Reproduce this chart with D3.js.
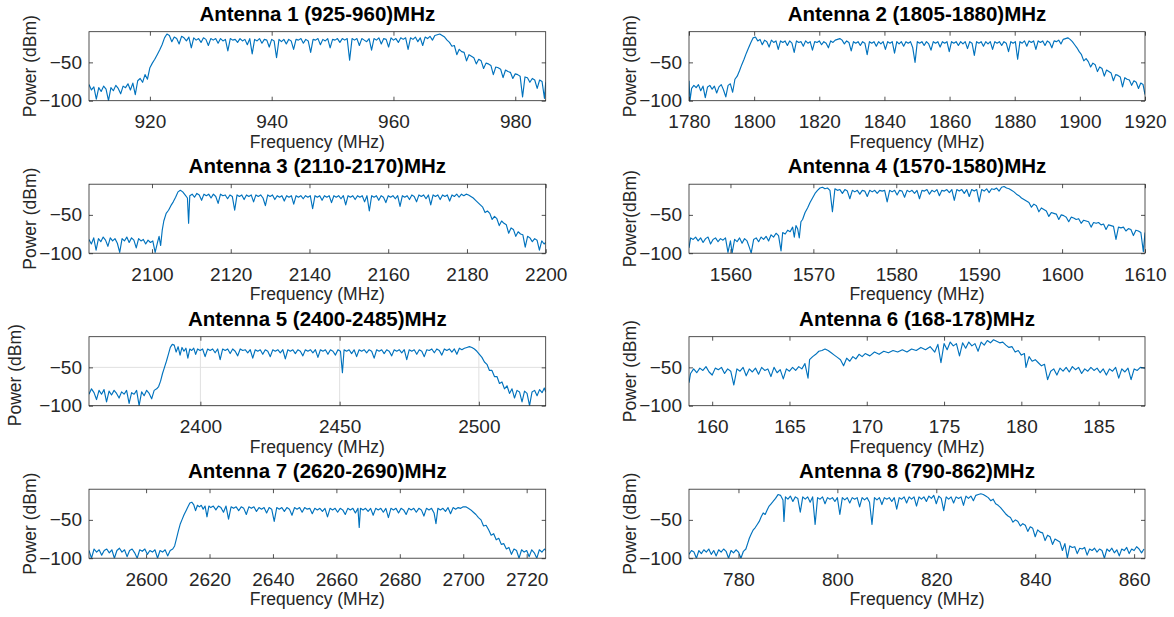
<!DOCTYPE html>
<html>
<head>
<meta charset="utf-8">
<script src="https://cdn.jsdelivr.net/npm/d3@7"></script>
<style>
  html, body { margin: 0; padding: 0; background: #fff; }
  svg { display: block; }
  text { font-family: "Liberation Sans", Arial, Helvetica, sans-serif; }
</style>
</head>
<body>
<script>
// ---------------- DATA ----------------
const titles = [
  "Antenna 1 (925-960)MHz", "Antenna 2 (1805-1880)MHz",
  "Antenna 3 (2110-2170)MHz", "Antenna 4 (1570-1580)MHz",
  "Antenna 5 (2400-2485)MHz", "Antenna 6 (168-178)MHz",
  "Antenna 7 (2620-2690)MHz", "Antenna 8 (790-862)MHz"
];
const yLabels = ["Power (dBm)", "Power (dBm)", "Power (dBm)", "Power(dBm)",
                 "Power (dBm)", "Power (dBm)", "Power (dBm)", "Power (dBm)"];
const xLabel = "Frequency (MHz)";
const xDomains = [[910, 985], [1780, 1920], [2084, 2200], [1555, 1610],
                  [2360, 2524], [158.5, 188], [2582, 2726], [770, 862.2]];
const yDomain = [-100, -10];
const yTicks = [-100, -50];
const xTicks = [
  [920, 940, 960, 980],
  [1780, 1800, 1820, 1840, 1860, 1880, 1900, 1920],
  [2100, 2120, 2140, 2160, 2180, 2200],
  [1560, 1570, 1580, 1590, 1600, 1610],
  [2400, 2450, 2500],
  [160, 165, 170, 175, 180, 185],
  [2600, 2620, 2640, 2660, 2680, 2700, 2720],
  [780, 800, 820, 840, 860]
];
const gridOn = [false, false, false, false, true, false, false, false];

// Spectra: [frequency MHz, power dBm]
const ant1 = [[910,-79],[910.4,-86],[910.8,-82],[911.2,-98],[911.6,-83],[912,-88],[912.4,-81],[912.8,-85],[913.2,-100],[913.6,-83],[914,-87],[914.4,-80],[914.8,-84],[915.2,-91],[915.6,-81],[916,-83],[916.4,-78],[916.8,-86],[917.2,-77],[917.6,-92],[918,-74],[918.4,-71],[918.8,-76],[919.2,-66],[919.6,-72],[920,-57],[920.4,-51],[920.8,-46],[921.2,-40],[921.6,-34],[922,-27],[922.4,-18],[922.8,-13],[923.2,-15],[923.6,-23],[924,-17],[924.4,-19],[924.8,-26],[925.2,-16],[925.6,-18],[926,-22],[926.4,-17],[926.8,-31],[927.2,-18],[927.6,-21],[928,-19],[928.4,-24],[928.8,-18],[929.2,-20],[929.6,-28],[930,-19],[930.4,-21],[930.8,-19],[931.2,-25],[931.6,-19],[932,-22],[932.4,-20],[932.8,-35],[933.2,-19],[933.6,-21],[934,-20],[934.4,-24],[934.8,-19],[935.2,-22],[935.6,-20],[936,-27],[936.4,-19],[936.8,-39],[937.2,-20],[937.6,-22],[938,-19],[938.4,-25],[938.8,-20],[939.2,-21],[939.6,-30],[940,-20],[940.4,-22],[940.8,-44],[941.2,-20],[941.6,-23],[942,-20],[942.4,-26],[942.8,-20],[943.2,-22],[943.6,-33],[944,-20],[944.4,-21],[944.8,-19],[945.2,-25],[945.6,-20],[946,-22],[946.4,-37],[946.8,-20],[947.2,-21],[947.6,-19],[948,-27],[948.4,-20],[948.8,-22],[949.2,-19],[949.6,-31],[950,-20],[950.4,-21],[950.8,-19],[951.2,-24],[951.6,-19],[952,-21],[952.4,-19],[952.8,-47],[953.2,-19],[953.6,-21],[954,-19],[954.4,-28],[954.8,-19],[955.2,-21],[955.6,-23],[956,-19],[956.4,-34],[956.8,-19],[957.2,-21],[957.6,-18],[958,-26],[958.4,-19],[958.8,-20],[959.2,-30],[959.6,-18],[960,-21],[960.4,-19],[960.8,-24],[961.2,-18],[961.6,-20],[962,-18],[962.4,-33],[962.8,-18],[963.2,-20],[963.6,-17],[964,-23],[964.4,-18],[964.8,-28],[965.2,-17],[965.6,-19],[966,-16],[966.4,-21],[966.8,-15],[967.2,-14],[967.6,-13],[968,-15],[968.4,-17],[968.8,-21],[969.2,-24],[969.6,-29],[970,-28],[970.4,-40],[970.8,-33],[971.2,-36],[971.6,-37],[972,-48],[972.4,-40],[972.8,-42],[973.2,-44],[973.6,-52],[974,-46],[974.4,-48],[974.8,-58],[975.2,-51],[975.6,-52],[976,-54],[976.4,-66],[976.8,-56],[977.2,-57],[977.6,-59],[978,-70],[978.4,-60],[978.8,-62],[979.2,-63],[979.6,-71],[980,-65],[980.4,-66],[980.8,-68],[981.2,-95],[981.6,-69],[982,-70],[982.4,-76],[982.8,-71],[983.2,-73],[983.6,-84],[984,-73],[984.4,-75],[984.8,-97],[985,-76]];

const ant2 = [[1780,-74],[1780.3,-100],[1780.8,-84],[1781.5,-80],[1782.2,-83],[1782.9,-79],[1783.6,-87],[1784.3,-81],[1785,-96],[1785.7,-82],[1786.4,-80],[1787.1,-85],[1787.8,-81],[1788.5,-90],[1789.2,-82],[1789.9,-79],[1790.6,-86],[1791.3,-95],[1792,-80],[1792.7,-78],[1793.4,-89],[1794.1,-72],[1794.8,-68],[1795.5,-61],[1796.2,-53],[1796.9,-46],[1797.6,-38],[1798.3,-31],[1799,-24],[1799.7,-18],[1800.4,-17],[1801.1,-22],[1801.8,-20],[1802.5,-27],[1803.2,-21],[1803.9,-23],[1804.6,-30],[1805.3,-21],[1806,-24],[1806.7,-22],[1807.4,-33],[1808.1,-22],[1808.8,-24],[1809.5,-22],[1810.2,-28],[1810.9,-22],[1811.6,-25],[1812.3,-37],[1813,-22],[1813.7,-24],[1814.4,-23],[1815.1,-29],[1815.8,-22],[1816.5,-25],[1817.2,-23],[1817.9,-34],[1818.6,-23],[1819.3,-24],[1820,-22],[1820.7,-27],[1821.4,-23],[1822.1,-25],[1822.8,-31],[1823.5,-22],[1824.2,-24],[1824.9,-21],[1825.6,-20],[1826.3,-19],[1827,-21],[1827.7,-26],[1828.4,-22],[1829.1,-24],[1829.8,-35],[1830.5,-23],[1831.2,-25],[1831.9,-23],[1832.6,-28],[1833.3,-23],[1834,-25],[1834.7,-40],[1835.4,-23],[1836.1,-25],[1836.8,-23],[1837.5,-29],[1838.2,-23],[1838.9,-26],[1839.6,-23],[1840.3,-33],[1841,-23],[1841.7,-25],[1842.4,-23],[1843.1,-38],[1843.8,-23],[1844.5,-26],[1845.2,-23],[1845.9,-29],[1846.6,-23],[1847.3,-25],[1848,-23],[1848.7,-31],[1849.4,-50],[1850.1,-23],[1850.8,-25],[1851.5,-23],[1852.2,-28],[1852.9,-23],[1853.6,-26],[1854.3,-34],[1855,-23],[1855.7,-25],[1856.4,-23],[1857.1,-30],[1857.8,-23],[1858.5,-25],[1859.2,-23],[1859.9,-36],[1860.6,-23],[1861.3,-25],[1862,-23],[1862.7,-28],[1863.4,-23],[1864.1,-26],[1864.8,-23],[1865.5,-32],[1866.2,-23],[1866.9,-25],[1867.6,-41],[1868.3,-23],[1869,-25],[1869.7,-23],[1870.4,-29],[1871.1,-23],[1871.8,-26],[1872.5,-23],[1873.2,-33],[1873.9,-23],[1874.6,-25],[1875.3,-23],[1876,-28],[1876.7,-23],[1877.4,-25],[1878.1,-36],[1878.8,-23],[1879.5,-25],[1880.2,-23],[1880.9,-46],[1881.6,-23],[1882.3,-25],[1883,-22],[1883.7,-29],[1884.4,-22],[1885.1,-24],[1885.8,-22],[1886.5,-33],[1887.2,-22],[1887.9,-24],[1888.6,-22],[1889.3,-28],[1890,-22],[1890.7,-24],[1891.4,-31],[1892.1,-22],[1892.8,-23],[1893.5,-21],[1894.2,-26],[1894.9,-20],[1895.6,-19],[1896.3,-18],[1897,-20],[1897.7,-23],[1898.4,-27],[1899.1,-31],[1899.8,-36],[1900.5,-40],[1901.2,-48],[1901.9,-45],[1902.6,-49],[1903.3,-56],[1904,-51],[1904.7,-53],[1905.4,-62],[1906.1,-56],[1906.8,-58],[1907.5,-68],[1908.2,-60],[1908.9,-62],[1909.6,-64],[1910.3,-74],[1911,-66],[1911.7,-67],[1912.4,-69],[1913.1,-82],[1913.8,-70],[1914.5,-72],[1915.2,-73],[1915.9,-80],[1916.6,-74],[1917.3,-76],[1918,-84],[1918.7,-77],[1919.4,-79],[1920,-92]];

const ant3 = [[2084,-82],[2084.6,-88],[2085.2,-80],[2085.8,-96],[2086.4,-81],[2087,-85],[2087.6,-79],[2088.2,-83],[2088.8,-91],[2089.4,-80],[2090,-84],[2090.6,-81],[2091.2,-87],[2091.8,-99],[2092.4,-81],[2093,-84],[2093.6,-79],[2094.2,-86],[2094.8,-80],[2095.4,-83],[2096,-93],[2096.6,-81],[2097.2,-84],[2097.8,-82],[2098.4,-88],[2099,-83],[2099.6,-86],[2100.2,-84],[2100.8,-99],[2101.4,-86],[2101.8,-78],[2102.2,-90],[2102.6,-70],[2103,-58],[2103.6,-48],[2104.2,-44],[2104.8,-38],[2105.4,-33],[2106,-27],[2106.6,-20],[2107.2,-18],[2107.8,-20],[2108.4,-24],[2109,-28],[2109.3,-61],[2109.6,-25],[2110.2,-23],[2110.8,-27],[2111.4,-22],[2112,-24],[2112.6,-31],[2113.2,-23],[2113.8,-25],[2114.4,-23],[2115,-28],[2115.6,-23],[2116.2,-26],[2116.8,-35],[2117.4,-23],[2118,-25],[2118.6,-24],[2119.2,-29],[2119.8,-24],[2120.4,-26],[2121,-44],[2121.6,-24],[2122.2,-26],[2122.8,-24],[2123.4,-30],[2124,-24],[2124.6,-26],[2125.2,-24],[2125.8,-33],[2126.4,-24],[2127,-26],[2127.6,-24],[2128.2,-28],[2128.8,-38],[2129.4,-24],[2130,-26],[2130.6,-24],[2131.2,-30],[2131.8,-25],[2132.4,-27],[2133,-25],[2133.6,-32],[2134.2,-25],[2134.8,-27],[2135.4,-25],[2136,-36],[2136.6,-25],[2137.2,-27],[2137.8,-25],[2138.4,-29],[2139,-25],[2139.6,-27],[2140.2,-25],[2140.8,-42],[2141.4,-25],[2142,-27],[2142.6,-25],[2143.2,-31],[2143.8,-25],[2144.4,-27],[2145,-25],[2145.6,-34],[2146.2,-25],[2146.8,-27],[2147.4,-25],[2148,-29],[2148.6,-25],[2149.2,-37],[2149.8,-25],[2150.4,-27],[2151,-25],[2151.6,-30],[2152.2,-25],[2152.8,-27],[2153.4,-25],[2154,-33],[2154.6,-25],[2155.2,-45],[2155.8,-25],[2156.4,-27],[2157,-25],[2157.6,-31],[2158.2,-25],[2158.8,-27],[2159.4,-34],[2160,-25],[2160.6,-27],[2161.2,-25],[2161.8,-29],[2162.4,-25],[2163,-39],[2163.6,-25],[2164.2,-27],[2164.8,-25],[2165.4,-30],[2166,-24],[2166.6,-26],[2167.2,-33],[2167.8,-24],[2168.4,-26],[2169,-24],[2169.6,-29],[2170.2,-24],[2170.8,-37],[2171.4,-24],[2172,-26],[2172.6,-24],[2173.2,-30],[2173.8,-24],[2174.4,-26],[2175,-24],[2175.6,-32],[2176.2,-24],[2176.8,-26],[2177.4,-23],[2178,-27],[2178.6,-23],[2179.2,-25],[2179.8,-23],[2180.4,-24],[2181,-26],[2181.6,-28],[2182.2,-31],[2182.8,-34],[2183.4,-37],[2184,-40],[2184.6,-47],[2185.2,-45],[2185.8,-48],[2186.4,-56],[2187,-52],[2187.6,-55],[2188.2,-64],[2188.8,-58],[2189.4,-61],[2190,-63],[2190.6,-74],[2191.2,-67],[2191.8,-69],[2192.4,-78],[2193,-72],[2193.6,-75],[2194.2,-76],[2194.8,-92],[2195.4,-78],[2196,-80],[2196.6,-85],[2197.2,-81],[2197.8,-83],[2198.4,-96],[2199,-84],[2199.6,-88],[2200,-86]];

const ant4 = [[1555,-93],[1555.2,-80],[1555.5,-82],[1555.8,-79],[1556.1,-84],[1556.4,-80],[1556.7,-86],[1557,-81],[1557.3,-79],[1557.6,-88],[1557.9,-82],[1558.2,-80],[1558.5,-85],[1558.8,-81],[1559.1,-83],[1559.4,-80],[1559.7,-99],[1560,-84],[1560.2,-100],[1560.5,-82],[1560.8,-85],[1561.1,-80],[1561.4,-87],[1561.7,-81],[1562,-84],[1562.3,-93],[1562.5,-100],[1562.8,-82],[1563.1,-80],[1563.4,-85],[1563.7,-79],[1564,-82],[1564.3,-78],[1564.6,-84],[1564.9,-76],[1565.2,-79],[1565.5,-74],[1565.8,-77],[1566.1,-97],[1566.3,-73],[1566.6,-75],[1566.9,-70],[1567.2,-72],[1567.5,-66],[1567.7,-79],[1567.9,-64],[1568.1,-68],[1568.3,-80],[1568.5,-59],[1568.7,-56],[1569,-47],[1569.3,-41],[1569.6,-34],[1569.9,-28],[1570.2,-22],[1570.5,-18],[1570.8,-15],[1571.1,-14],[1571.4,-16],[1571.7,-15],[1572,-18],[1572.3,-46],[1572.6,-16],[1572.9,-18],[1573.2,-17],[1573.5,-22],[1573.8,-17],[1574.1,-19],[1574.4,-29],[1574.7,-18],[1575,-20],[1575.3,-18],[1575.6,-23],[1575.9,-18],[1576.2,-19],[1576.5,-26],[1576.8,-18],[1577.1,-20],[1577.4,-18],[1577.7,-22],[1578,-18],[1578.3,-19],[1578.6,-18],[1578.9,-33],[1579.2,-18],[1579.5,-20],[1579.8,-18],[1580.1,-24],[1580.4,-18],[1580.7,-19],[1581,-27],[1581.3,-18],[1581.6,-20],[1581.9,-18],[1582.2,-22],[1582.5,-18],[1582.8,-29],[1583.1,-18],[1583.4,-19],[1583.7,-17],[1584,-23],[1584.3,-18],[1584.6,-20],[1584.9,-17],[1585.2,-25],[1585.5,-18],[1585.8,-19],[1586.1,-17],[1586.4,-21],[1586.7,-17],[1587,-31],[1587.3,-17],[1587.6,-19],[1587.9,-17],[1588.2,-22],[1588.5,-17],[1588.8,-26],[1589.1,-17],[1589.4,-19],[1589.7,-17],[1590,-33],[1590.3,-17],[1590.6,-19],[1590.9,-16],[1591.2,-21],[1591.5,-16],[1591.8,-17],[1592.1,-15],[1592.4,-19],[1592.7,-14],[1593,-13],[1593.3,-15],[1593.6,-16],[1593.9,-18],[1594.2,-20],[1594.5,-23],[1594.8,-25],[1595.1,-28],[1595.4,-30],[1595.7,-32],[1596,-34],[1596.3,-40],[1596.6,-36],[1596.9,-38],[1597.2,-46],[1597.5,-41],[1597.8,-43],[1598.1,-45],[1598.4,-52],[1598.7,-47],[1599,-48],[1599.3,-49],[1599.6,-56],[1599.9,-50],[1600.2,-51],[1600.5,-53],[1600.8,-59],[1601.1,-53],[1601.4,-54],[1601.7,-56],[1602,-55],[1602.3,-61],[1602.6,-57],[1602.9,-58],[1603.2,-59],[1603.5,-66],[1603.8,-60],[1604.1,-61],[1604.4,-60],[1604.7,-63],[1605,-62],[1605.3,-69],[1605.6,-63],[1605.9,-64],[1606.2,-65],[1606.5,-82],[1606.8,-66],[1607.1,-67],[1607.4,-66],[1607.7,-71],[1608,-68],[1608.3,-69],[1608.6,-77],[1608.9,-70],[1609.2,-71],[1609.5,-73],[1609.8,-98],[1610,-73]];

const ant5 = [[2360,-85],[2360.9,-78],[2361.8,-83],[2362.7,-92],[2363.6,-80],[2364.5,-85],[2365.4,-79],[2366.3,-95],[2367.2,-81],[2368.1,-86],[2369,-80],[2369.9,-84],[2370.8,-90],[2371.7,-82],[2372.6,-85],[2373.5,-80],[2374.4,-97],[2375.3,-83],[2376.2,-85],[2377.1,-80],[2378,-100],[2378.9,-82],[2379.8,-87],[2380.7,-80],[2381.6,-84],[2382.5,-91],[2383.4,-80],[2384.3,-78],[2385,-75],[2385.7,-68],[2386.4,-58],[2387.1,-50],[2387.8,-42],[2388.5,-33],[2389.2,-24],[2389.9,-20],[2390.6,-21],[2391.3,-30],[2392,-23],[2392.7,-34],[2393.4,-24],[2394.1,-29],[2394.8,-25],[2395.5,-38],[2396.2,-26],[2396.9,-28],[2397.6,-25],[2398.3,-33],[2399,-26],[2399.9,-28],[2400.8,-26],[2401.7,-36],[2402.6,-26],[2403.5,-28],[2404.4,-26],[2405.3,-31],[2406.2,-26],[2407.1,-40],[2408,-26],[2408.9,-28],[2409.8,-26],[2410.7,-32],[2411.6,-26],[2412.5,-29],[2413.4,-35],[2414.3,-26],[2415.2,-28],[2416.1,-27],[2417,-31],[2417.9,-27],[2418.8,-38],[2419.7,-27],[2420.6,-29],[2421.5,-27],[2422.4,-33],[2423.3,-27],[2424.2,-29],[2425.1,-36],[2426,-27],[2426.9,-29],[2427.8,-27],[2428.7,-31],[2429.6,-27],[2430.5,-39],[2431.4,-27],[2432.3,-29],[2433.2,-27],[2434.1,-32],[2435,-27],[2435.9,-29],[2436.8,-35],[2437.7,-27],[2438.6,-29],[2439.5,-27],[2440.4,-31],[2441.3,-27],[2442.2,-37],[2443.1,-27],[2444,-29],[2444.9,-27],[2445.8,-33],[2446.7,-27],[2447.6,-29],[2448.5,-34],[2449.4,-27],[2450.3,-29],[2451,-57],[2451.6,-27],[2452.5,-29],[2453.4,-27],[2454.3,-32],[2455.2,-27],[2456.1,-36],[2457,-27],[2457.9,-29],[2458.8,-27],[2459.7,-31],[2460.6,-27],[2461.5,-29],[2462.4,-38],[2463.3,-27],[2464.2,-29],[2465.1,-27],[2466,-32],[2466.9,-27],[2467.8,-29],[2468.7,-35],[2469.6,-27],[2470.5,-29],[2471.4,-27],[2472.3,-31],[2473.2,-27],[2474.1,-40],[2475,-27],[2475.9,-29],[2476.8,-27],[2477.7,-33],[2478.6,-27],[2479.5,-29],[2480.4,-36],[2481.3,-27],[2482.2,-28],[2483.1,-26],[2484,-31],[2484.9,-26],[2485.8,-28],[2486.7,-34],[2487.6,-26],[2488.5,-28],[2489.4,-26],[2490.3,-30],[2491.2,-26],[2492.1,-33],[2493,-25],[2493.9,-27],[2494.8,-25],[2495.7,-24],[2496.6,-23],[2497.5,-24],[2498.4,-26],[2499.3,-29],[2500.2,-33],[2501.1,-37],[2502,-43],[2502.9,-46],[2503.8,-54],[2504.7,-54],[2505.6,-62],[2506.5,-62],[2507.4,-71],[2508.3,-69],[2509.2,-78],[2510.1,-74],[2511,-84],[2511.9,-78],[2512.8,-90],[2513.7,-80],[2514.6,-82],[2515.5,-95],[2516.4,-81],[2517.3,-84],[2518.2,-100],[2519.1,-82],[2520,-80],[2520.9,-87],[2521.8,-79],[2522.7,-83],[2523.5,-77],[2524,-82]];

const ant6 = [[158.5,-70],[158.6,-58],[158.8,-52],[159,-57],[159.2,-51],[159.4,-54],[159.6,-49],[159.8,-56],[160,-60],[160.2,-51],[160.4,-53],[160.6,-50],[160.8,-58],[161,-52],[161.2,-55],[161.4,-73],[161.6,-52],[161.8,-55],[162,-50],[162.2,-61],[162.4,-52],[162.6,-56],[162.8,-51],[163,-59],[163.2,-50],[163.4,-54],[163.6,-52],[163.8,-62],[164,-50],[164.2,-57],[164.4,-53],[164.6,-65],[164.8,-52],[165,-55],[165.2,-50],[165.4,-54],[165.6,-49],[165.8,-52],[166,-45],[166.2,-64],[166.3,-40],[166.5,-36],[166.7,-33],[166.9,-29],[167.1,-28],[167.3,-26],[167.5,-28],[167.7,-31],[167.9,-34],[168.1,-37],[168.3,-40],[168.5,-48],[168.7,-38],[168.9,-42],[169.1,-36],[169.3,-39],[169.5,-33],[169.7,-36],[169.9,-32],[170.2,-35],[170.5,-30],[170.8,-33],[171.1,-29],[171.4,-31],[171.7,-28],[172,-30],[172.3,-27],[172.6,-30],[172.9,-26],[173.2,-28],[173.5,-24],[173.8,-27],[174.1,-23],[174.4,-30],[174.6,-20],[174.8,-44],[175,-19],[175.2,-27],[175.4,-17],[175.6,-22],[175.8,-19],[176,-35],[176.2,-18],[176.4,-25],[176.6,-17],[176.8,-22],[177,-19],[177.2,-29],[177.4,-17],[177.6,-21],[177.8,-15],[178,-18],[178.2,-14],[178.4,-16],[178.6,-18],[178.8,-17],[179,-21],[179.2,-24],[179.4,-23],[179.6,-30],[179.8,-28],[180,-34],[180.2,-32],[180.3,-50],[180.5,-36],[180.7,-42],[180.9,-40],[181.1,-44],[181.3,-48],[181.5,-46],[181.7,-66],[181.9,-55],[182.1,-52],[182.3,-60],[182.5,-51],[182.7,-55],[182.9,-50],[183.1,-56],[183.3,-49],[183.5,-53],[183.7,-50],[183.9,-58],[184.1,-52],[184.3,-55],[184.5,-50],[184.7,-54],[184.9,-51],[185.1,-57],[185.3,-52],[185.5,-60],[185.7,-52],[185.9,-55],[186.1,-50],[186.3,-64],[186.5,-52],[186.7,-56],[186.9,-51],[187.1,-66],[187.3,-52],[187.5,-54],[187.7,-50],[188,-51]];

const ant7 = [[2582,-90],[2582.8,-100],[2583.6,-88],[2584.4,-92],[2585.2,-89],[2586,-96],[2586.8,-90],[2587.6,-88],[2588.4,-93],[2589.2,-89],[2590,-100],[2590.8,-90],[2591.6,-87],[2592.4,-92],[2593.2,-89],[2594,-98],[2594.8,-90],[2595.6,-88],[2596.4,-93],[2597.2,-100],[2598,-89],[2598.8,-91],[2599.6,-88],[2600.4,-95],[2601.2,-90],[2602,-92],[2602.8,-89],[2603.6,-100],[2604.4,-90],[2605.2,-92],[2606,-89],[2606.8,-97],[2607.6,-90],[2608.4,-88],[2609,-84],[2609.6,-74],[2610.2,-64],[2610.8,-55],[2611.4,-49],[2612,-43],[2612.6,-38],[2613.2,-33],[2613.8,-28],[2614.4,-27],[2615,-30],[2615.6,-38],[2616.2,-31],[2616.8,-33],[2617.4,-31],[2618,-36],[2618.6,-32],[2619.2,-46],[2619.8,-32],[2620.4,-34],[2621.2,-32],[2622,-37],[2622.8,-32],[2623.6,-34],[2624.4,-40],[2625.2,-32],[2626,-49],[2626.8,-33],[2627.6,-35],[2628.4,-33],[2629.2,-38],[2630,-33],[2630.8,-35],[2631.6,-43],[2632.4,-33],[2633.2,-35],[2634,-33],[2634.8,-39],[2635.6,-34],[2636.4,-36],[2637.2,-34],[2638,-41],[2638.8,-34],[2639.6,-36],[2640.4,-52],[2641.2,-34],[2642,-36],[2642.8,-34],[2643.6,-39],[2644.4,-34],[2645.2,-36],[2646,-44],[2646.8,-34],[2647.6,-36],[2648.4,-34],[2649.2,-40],[2650,-34],[2650.8,-36],[2651.6,-35],[2652.4,-42],[2653.2,-35],[2654,-37],[2654.8,-35],[2655.6,-39],[2656.4,-35],[2657.2,-46],[2658,-35],[2658.8,-37],[2659.6,-35],[2660.4,-40],[2661.2,-35],[2662,-37],[2662.8,-43],[2663.6,-35],[2664.4,-37],[2665.2,-35],[2666,-41],[2666.8,-35],[2667.2,-60],[2667.6,-35],[2668.4,-37],[2669.2,-35],[2670,-39],[2670.8,-35],[2671.6,-44],[2672.4,-35],[2673.2,-37],[2674,-35],[2674.8,-40],[2675.6,-35],[2676.4,-47],[2677.2,-35],[2678,-37],[2678.8,-35],[2679.6,-41],[2680.4,-35],[2681.2,-37],[2682,-43],[2682.8,-35],[2683.6,-37],[2684.4,-35],[2685.2,-40],[2686,-35],[2686.8,-37],[2687.6,-45],[2688.4,-35],[2689.2,-37],[2690,-35],[2690.8,-41],[2691.4,-55],[2692,-35],[2692.8,-37],[2693.6,-35],[2694.4,-39],[2695.2,-34],[2696,-42],[2696.8,-34],[2697.6,-36],[2698.4,-34],[2699.2,-35],[2700,-33],[2700.8,-33],[2701.6,-35],[2702.4,-37],[2703.2,-40],[2704,-43],[2704.8,-47],[2705.6,-50],[2706.4,-58],[2707.2,-57],[2708,-63],[2708.8,-70],[2709.6,-68],[2710.4,-76],[2711.2,-74],[2712,-82],[2712.8,-81],[2713.6,-88],[2714.4,-86],[2715.2,-95],[2716,-88],[2716.8,-90],[2717.6,-100],[2718.4,-89],[2719.2,-92],[2720,-90],[2720.8,-98],[2721.6,-89],[2722.4,-93],[2723.2,-100],[2724,-89],[2724.8,-92],[2725.6,-88],[2726,-90]];

const ant8 = [[770,-95],[770.5,-90],[771,-92],[771.5,-100],[772,-90],[772.5,-94],[773,-89],[773.5,-92],[774,-88],[774.5,-95],[775,-90],[775.5,-97],[776,-89],[776.5,-92],[777,-88],[777.5,-91],[778,-100],[778.5,-90],[779,-93],[779.5,-89],[780,-92],[780.5,-100],[781,-91],[781.5,-88],[781.9,-80],[782.2,-74],[782.6,-68],[783,-63],[783.4,-60],[783.8,-56],[784.2,-52],[784.6,-46],[785,-41],[785.4,-43],[785.8,-37],[786.2,-32],[786.6,-29],[787,-26],[787.5,-22],[788,-17],[788.5,-18],[789,-24],[789.2,-52],[789.5,-20],[790,-23],[790.5,-19],[791,-26],[791.5,-20],[792,-22],[792.5,-40],[793,-20],[793.5,-23],[794,-20],[794.5,-27],[795,-20],[795.5,-56],[796,-21],[796.5,-23],[797,-20],[797.5,-29],[798,-21],[798.5,-23],[799,-21],[799.5,-26],[800,-21],[800.5,-43],[801,-21],[801.5,-24],[802,-21],[802.5,-28],[803,-21],[803.5,-23],[804,-21],[804.5,-33],[805,-21],[805.5,-24],[806,-21],[806.5,-27],[807,-56],[807.5,-21],[808,-24],[808.5,-21],[809,-30],[809.5,-21],[810,-23],[810.5,-21],[811,-26],[811.5,-21],[812,-36],[812.5,-21],[813,-23],[813.5,-20],[814,-28],[814.5,-20],[815,-23],[815.5,-20],[816,-32],[816.5,-20],[817,-23],[817.5,-20],[818,-26],[818.5,-19],[819,-22],[819.5,-18],[820,-29],[820.5,-19],[821,-22],[821.5,-38],[822,-20],[822.5,-23],[823,-20],[823.5,-28],[824,-20],[824.5,-22],[825,-20],[825.5,-31],[826,-19],[826.5,-22],[827,-19],[827.5,-25],[828,-18],[828.5,-17],[829,-16],[829.5,-17],[830,-19],[830.5,-21],[831,-25],[831.5,-23],[832,-29],[832.5,-31],[833,-34],[833.5,-38],[834,-42],[834.5,-45],[835,-47],[835.5,-53],[836,-50],[836.5,-52],[837,-58],[837.5,-55],[838,-57],[838.5,-65],[839,-59],[839.5,-61],[840,-72],[840.5,-63],[841,-66],[841.5,-67],[842,-77],[842.5,-70],[843,-72],[843.5,-82],[844,-75],[844.5,-77],[845,-79],[845.5,-90],[846,-81],[846.5,-100],[847,-84],[847.5,-86],[848,-85],[848.5,-94],[849,-87],[849.5,-88],[850,-86],[850.5,-96],[851,-88],[851.5,-90],[852,-87],[852.5,-92],[853,-88],[853.5,-90],[854,-100],[854.5,-88],[855,-91],[855.5,-87],[856,-93],[856.5,-89],[857,-97],[857.5,-88],[858,-90],[858.5,-86],[859,-94],[859.5,-88],[860,-90],[860.5,-85],[861,-88],[861.5,-93],[862,-88]];

const spectra = [ant1, ant2, ant3, ant4, ant5, ant6, ant7, ant8];

// ---------------- LAYOUT ----------------
const W = 1174, H = 617;
const colX = [[89, 545.7], [689, 1145]];
const rowTop = [31.7, 184.2, 336.7, 489.2];
const plotH = 69;
const textColor = "#262626";
const axisColor = "#262626";
const tickFont = 19, labelFont = 17.5, titleFont = 20.5;

const svg = d3.select("body").append("svg")
  .attr("width", W).attr("height", H)
  .attr("viewBox", `0 0 ${W} ${H}`);

spectra.forEach((data, i) => {
  const col = i % 2, row = Math.floor(i / 2);
  const [x0, x1] = colX[col];
  const y0 = rowTop[row], y1 = y0 + plotH;

  const x = d3.scaleLinear().domain(xDomains[i]).range([x0, x1]);
  const y = d3.scaleLinear().domain(yDomain).range([y1, y0]);

  const g = svg.append("g");

  const clipId = "clip" + i;
  svg.append("clipPath").attr("id", clipId)
    .append("rect").attr("x", x0).attr("y", y0).attr("width", x1 - x0).attr("height", y1 - y0);

  if (gridOn[i]) {
    g.append("g").selectAll("line").data(xTicks[i]).join("line")
      .attr("x1", d => x(d)).attr("x2", d => x(d))
      .attr("y1", y0).attr("y2", y1)
      .attr("stroke", "#e0e0e0").attr("stroke-width", 1);
    g.append("g").selectAll("line").data(yTicks).join("line")
      .attr("x1", x0).attr("x2", x1)
      .attr("y1", d => y(d)).attr("y2", d => y(d))
      .attr("stroke", "#e0e0e0").attr("stroke-width", 1);
  }

  const line = d3.line().x(d => x(d[0])).y(d => y(d[1]));
  g.append("path").datum(data)
    .attr("clip-path", `url(#${clipId})`)
    .attr("d", line)
    .attr("fill", "none")
    .attr("stroke", "#0072BD")
    .attr("stroke-width", 1.15)
    .attr("stroke-linejoin", "round");

  const xb = d3.axisBottom(x).tickValues(xTicks[i]).tickSizeInner(-4).tickSizeOuter(0).tickPadding(14).tickFormat(d3.format("d"));
  const xt = d3.axisTop(x).tickValues(xTicks[i]).tickSizeInner(-4).tickSizeOuter(0).tickFormat("");
  const yl = d3.axisLeft(y).tickValues(yTicks).tickSizeInner(-4).tickSizeOuter(0).tickPadding(7).tickFormat(d3.format("d"));
  const yr = d3.axisRight(y).tickValues(yTicks).tickSizeInner(-4).tickSizeOuter(0).tickFormat("");

  const styleAxis = sel => {
    sel.select(".domain").remove();
    sel.selectAll("line").attr("stroke", axisColor).attr("stroke-width", 0.8);
    sel.selectAll("text").attr("fill", textColor).style("font-size", tickFont + "px")
      .style("font-family", '"Liberation Sans", Arial, sans-serif');
  };
  g.append("g").attr("transform", `translate(0,${y1})`).call(xb).call(styleAxis);
  g.append("g").attr("transform", `translate(0,${y0})`).call(xt).call(styleAxis);
  g.append("g").attr("transform", `translate(${x0},0)`).call(yl).call(styleAxis);
  g.append("g").attr("transform", `translate(${x1},0)`).call(yr).call(styleAxis);

  g.append("rect").attr("x", x0).attr("y", y0).attr("width", x1 - x0).attr("height", y1 - y0)
    .attr("fill", "none").attr("stroke", axisColor).attr("stroke-width", 0.8);

  g.append("text")
    .attr("x", (x0 + x1) / 2).attr("y", y0 - 11)
    .attr("text-anchor", "middle")
    .attr("font-weight", "bold")
    .attr("font-size", titleFont)
    .attr("fill", "#000")
    .text(titles[i]);

  g.append("text")
    .attr("x", (x0 + x1) / 2).attr("y", y1 + 47)
    .attr("text-anchor", "middle")
    .attr("font-size", labelFont)
    .attr("fill", textColor)
    .text(xLabel);

  const ylx = (col === 0 ? (i === 4 ? 21 : 36) : 636);
  const yly = (y0 + y1) / 2 + (i === 4 ? 4 : 0);
  g.append("text")
    .attr("transform", `translate(${ylx},${yly}) rotate(-90)`)
    .attr("text-anchor", "middle")
    .attr("font-size", labelFont)
    .attr("fill", textColor)
    .text(yLabels[i]);
});
</script>
</body>
</html>
